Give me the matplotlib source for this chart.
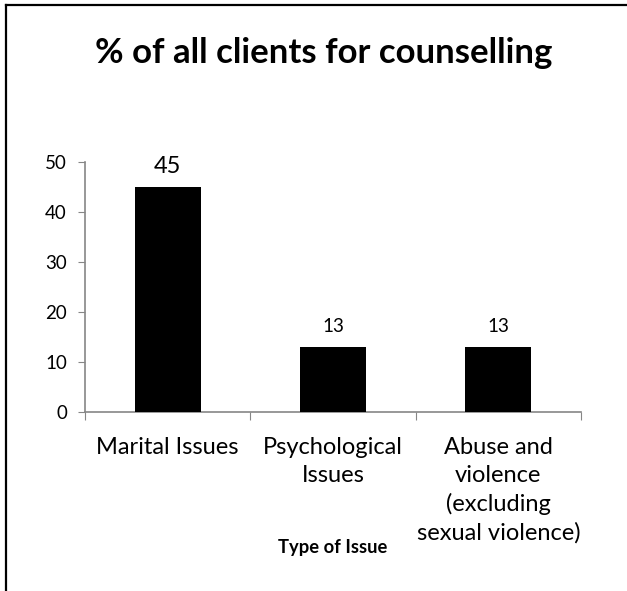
import matplotlib
matplotlib.use("Agg")
import matplotlib.pyplot as plt
from matplotlib.lines import Line2D

categories = ["Marital Issues", "Psychological\nIssues",
              "Abuse and\nviolence\n(excluding\nsexual violence)"]
values = [45, 13, 13]
label_sizes = [17, 13.5]
yticks = [0, 10, 20, 30, 40, 50]

plt.rcParams["font.family"] = ["Lato", "DejaVu Sans"]

W, H = 627, 591
fig = plt.figure(figsize=(W / 100, H / 100), dpi=100)
ax = fig.add_axes([85 / W, (H - 412) / H, (581 - 85) / W, 250 / H])

x = list(range(len(categories)))
ax.bar(x, values, width=0.4, color="black", zorder=3)
ax.set_xlim(-0.5, len(categories) - 0.5)
ax.set_ylim(0, 50)

for xi, v in zip(x, values):
    fs = label_sizes[0] if v == max(values) else label_sizes[1]
    ax.annotate(str(v), (xi, v), xytext=(0, 15), textcoords="offset points",
                ha="center", va="center", fontsize=fs, color="black")

axis_grey = "#868686"
for side in ("top", "right"):
    ax.spines[side].set_visible(False)
for side in ("left", "bottom"):
    ax.spines[side].set_color(axis_grey)
    ax.spines[side].set_linewidth(1.2)

ax.set_yticks(yticks)
ax.tick_params(axis="y", direction="out", length=5, color=axis_grey,
               labelsize=13.5, pad=8)
ax.set_xticks([i - 0.5 for i in range(len(categories) + 1)], minor=False)
ax.set_xticklabels([])
ax.tick_params(axis="x", direction="out", length=6, color=axis_grey)
ax.set_xticks(x, minor=True)
ax.set_xticklabels(categories, minor=True, fontsize=17, linespacing=1.39)
ax.tick_params(axis="x", which="minor", length=0, pad=18)

ax.set_xlabel("Type of Issue", fontsize=13.2, fontweight="bold", va="center")
ax.xaxis.set_label_coords(0.5, (412 - 547) / 250)

fig.text(323.5 / W, 1 - 53 / H, "% of all clients for counselling",
         ha="center", va="center", fontsize=25, fontweight="bold")

# frame around the chart area (left and top edges)
fig.add_artist(Line2D([5.5 / W, 5.5 / W], [0, 1 - 4.5 / H], color="black",
                      lw=1.6, transform=fig.transFigure))
fig.add_artist(Line2D([5.5 / W, 1], [1 - 4.5 / H, 1 - 4.5 / H], color="black",
                      lw=1.6, transform=fig.transFigure))

fig.savefig("out.png", dpi=100)
